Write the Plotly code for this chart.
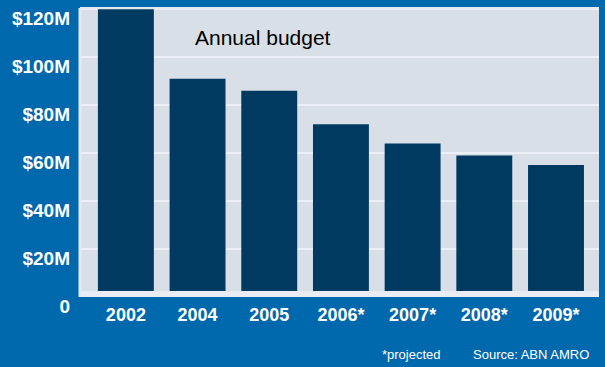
import plotly.graph_objects as go

years = ["2002", "2004", "2005", "2006*", "2007*", "2008*", "2009*"]
budget = [120, 91, 86, 72, 64, 59, 55]  # $ millions
ytick_vals = [0, 20, 40, 60, 80, 100, 120]
ytick_text = ["0", "$20M", "$40M", "$60M", "$80M", "$100M", "$120M"]

FONT = "Liberation Sans Narrow, Arial Narrow, Liberation Sans, Arial, sans-serif"
BLUE = "#0068ad"
PLOTBG = "#d8dfe7"
BAR = "#003a60"
GRID = "#eceff5"

fig = go.Figure()
fig.add_trace(go.Bar(
    x=list(range(len(years))), y=budget,
    marker=dict(color=BAR, line=dict(width=0)),
    width=0.78, hoverinfo="skip",
))

fig.update_layout(
    width=605, height=367,
    margin=dict(l=80, r=6, t=8, b=70),
    paper_bgcolor=BLUE, plot_bgcolor=PLOTBG,
    showlegend=False,
    font=dict(family=FONT, color="white"),
    xaxis=dict(
        range=[-0.64, 6.6], tickvals=list(range(len(years))), ticktext=years,
        showgrid=False, zeroline=False, showline=False, ticks="",
        tickfont=dict(size=18, color="white", family=FONT, weight="bold"),
        ticklabelstandoff=5, fixedrange=True,
    ),
    yaxis=dict(
        range=[0, 120.5], tickvals=ytick_vals, ticktext=ytick_text,
        showgrid=True, gridcolor=GRID, gridwidth=2, zeroline=False,
        showline=False, ticks="",
        tickfont=dict(size=19, color="white", family=FONT, weight="bold"),
        ticklabelstandoff=9, ticklabelshift=9, fixedrange=True,
    ),
    shapes=[
        dict(type="rect", xref="paper", yref="paper", x0=0, x1=1, y0=0, y1=0.021,
             fillcolor="#e9ecf2", line=dict(width=0), layer="above"),
        dict(type="line", xref="paper", yref="paper", x0=0, x1=1, y0=1, y1=1,
             line=dict(color="#e6eaf0", width=2), layer="above"),
        dict(type="line", xref="paper", yref="paper", x0=0, x1=0, y0=0, y1=1,
             line=dict(color="#e6eaf0", width=3), layer="above"),
    ],
    annotations=[
        dict(text="Annual budget", xref="paper", yref="paper", x=0.218, y=0.898,
             xanchor="left", yanchor="middle", showarrow=False,
             font=dict(size=21, color="black", family=FONT)),
        dict(text="*projected", xref="paper", yref="paper", x=0.578, y=-0.2,
             xanchor="left", yanchor="middle", showarrow=False,
             font=dict(size=13, color="white", family=FONT)),
        dict(text="Source: ABN AMRO", xref="paper", yref="paper", x=0.985, y=-0.2,
             xanchor="right", yanchor="middle", showarrow=False,
             font=dict(size=13, color="white", family=FONT)),
    ],
)

fig.write_html("out.html")
